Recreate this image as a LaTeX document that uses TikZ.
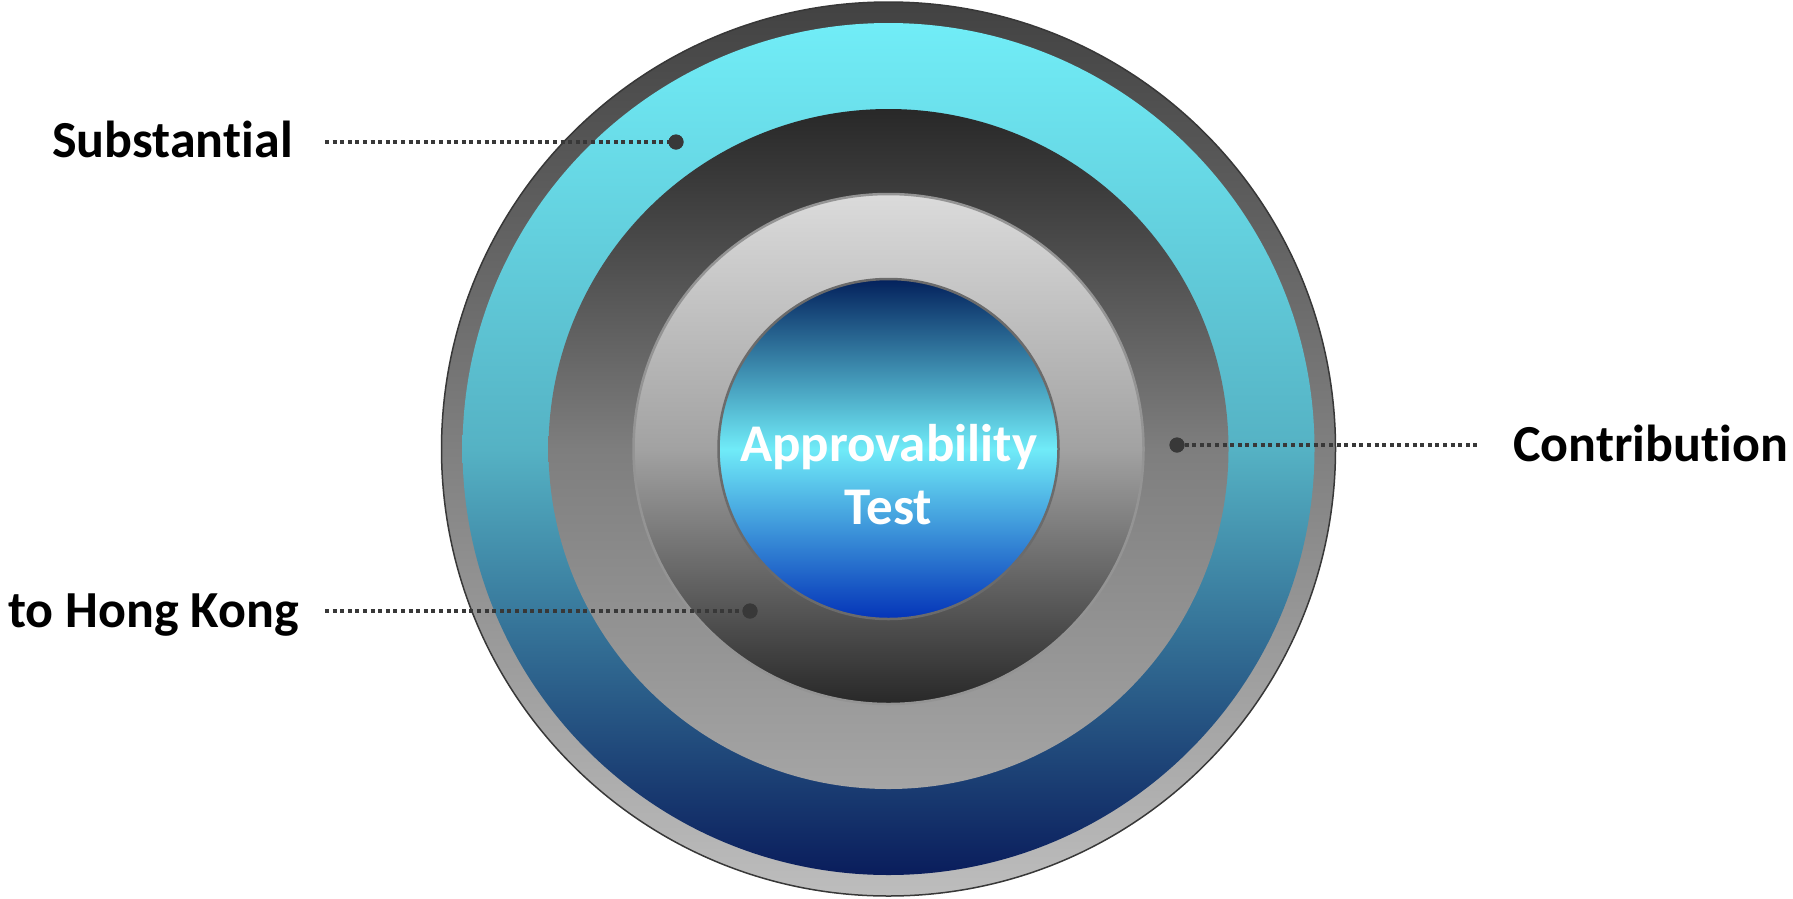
\documentclass[tikz,border=0pt]{standalone}
\usepackage{fontspec}
\setmainfont{Carlito}[Ligatures=NoCommon,RawFeature={-liga;-clig;-dlig;-calt}]
\definecolor{oTop}{HTML}{424242}
\definecolor{oBot}{HTML}{BDBDBD}
\definecolor{cTop}{HTML}{71EDF7}
\definecolor{cMid}{HTML}{55B2C4}
\definecolor{cBot}{HTML}{0A1D5C}
\definecolor{dTop}{HTML}{282828}
\definecolor{dMid}{HTML}{7E7E7E}
\definecolor{dBot}{HTML}{A5A5A5}
\definecolor{lTop}{HTML}{DBDBDB}
\definecolor{lMid}{HTML}{A2A2A2}
\definecolor{lBot}{HTML}{282828}
\definecolor{iTop}{HTML}{03215C}
\definecolor{iMid}{HTML}{70EBF8}
\definecolor{iBot}{HTML}{0434B8}
\definecolor{dotcol}{HTML}{383838}
\begin{document}
\begin{tikzpicture}[x=1pt,y=-1pt,
  lab/.style={inner sep=0pt,text=black,font=\fontsize{52}{60}\selectfont\bfseries},
  leader/.style={draw=dotcol,line width=4pt,dash pattern=on 4pt off 3.6pt},
  dotnode/.style={circle,fill=dotcol,inner sep=0pt,minimum size=15pt}]
\useasboundingbox (0,0) rectangle (1793,898);
\coordinate (c) at (888.5,449);
% rings
\shade[top color=oTop,bottom color=oBot,draw=black!78,line width=1.5pt] (c) circle[radius=447pt];
\shade[top color=cTop,bottom color=cBot,middle color=cMid] (c) circle[radius=426pt];
\shade[top color=dTop,bottom color=dBot,middle color=dMid] (c) circle[radius=340pt];
\shade[top color=lTop,bottom color=lBot,middle color=lMid,draw=black!42,line width=2.5pt] (c) circle[radius=255pt];
\shade[top color=iTop,bottom color=iBot,middle color=iMid,draw=black!58,line width=2.5pt] (c) circle[radius=170pt];
\node[align=center,text=white,inner sep=0pt,font=\fontsize{53}{63}\selectfont\bfseries] (core) at (888.5,475) {Approvability\\Test};
% labels
\node[lab,anchor=base west] (subst) at (52,157) {Substan\kern0pt tial};
\node[lab,anchor=base west] (contrib) at (1513,461) {Contribu\kern0pt tion};
\node[lab,anchor=base west] (hk) at (8,627) {to Hong Kong};
% leader dots
\node[dotnode] (d1) at (676,142) {};
\node[dotnode] (d2) at (1177,445) {};
\node[dotnode] (d3) at (750,611) {};
\coordinate (e1) at (325,142);
\coordinate (e2) at (1480,445);
\coordinate (e3) at (325,611);
\draw[leader] (e1) -- (d1.center);
\draw[leader] (d2.center) -- (e2);
\draw[leader] (e3) -- (d3.center);
\node[dotnode] at (d1) {};
\node[dotnode] at (d2) {};
\node[dotnode] at (d3) {};
\end{tikzpicture}
\end{document}
